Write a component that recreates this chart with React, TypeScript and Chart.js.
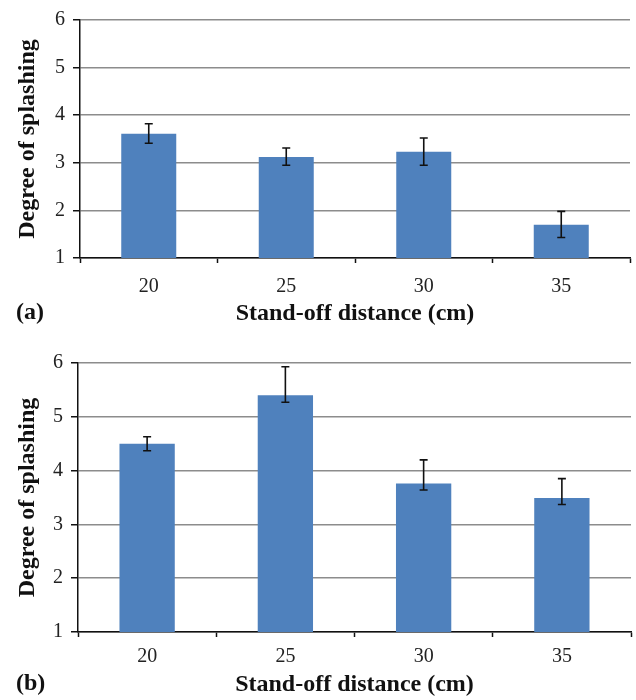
import React, { useEffect, useRef } from "react";
import { Chart, registerables } from "chart.js";

Chart.register(...registerables);

const categories = ["20", "25", "30", "35"];
const yTickMin = 1;
const yTickMax = 6;

const meanA = [3.61, 3.12, 3.23, 1.7];
const errUpA = [0.21, 0.19, 0.29, 0.28];
const errDownA = [0.2, 0.17, 0.28, 0.27];

const meanB = [4.5, 5.4, 3.76, 3.49];
const errUpB = [0.13, 0.53, 0.44, 0.36];
const errDownB = [0.13, 0.13, 0.12, 0.12];

const xTitle = "Stand-off distance (cm)";
const yTitle = "Degree of splashing";

const FONT = "'Liberation Serif', 'Times New Roman', serif";
const BAR = "#4f81bd";

type PanelProps = {
  tag: string;
  values: number[];
  up: number[];
  down: number[];
  top: number;
  height: number;
  padTop: number;
  padRight: number;
  yWidth: number;
  xHeight: number;
  tickPad: number;
  titlePadBottom: number;
  tagY: number;
};

function Panel(p: PanelProps) {
  const ref = useRef<HTMLCanvasElement | null>(null);
  useEffect(() => {
    if (!ref.current) return;
    const errorBars = {
      id: "errorBars" + p.tag,
      afterDatasetsDraw(chart: any) {
        const ctx = chart.ctx;
        const meta = chart.getDatasetMeta(0);
        const ys = chart.scales.y;
        ctx.save();
        ctx.strokeStyle = "#111";
        ctx.lineWidth = 1.6;
        meta.data.forEach((bar: any, i: number) => {
          const v = p.values[i];
          const yHi = ys.getPixelForValue(v + p.up[i]);
          const yLo = ys.getPixelForValue(v - p.down[i]);
          const x = bar.x;
          ctx.beginPath();
          ctx.moveTo(x, yHi);
          ctx.lineTo(x, yLo);
          ctx.moveTo(x - 4, yHi);
          ctx.lineTo(x + 4, yHi);
          ctx.moveTo(x - 4, yLo);
          ctx.lineTo(x + 4, yLo);
          ctx.stroke();
        });
        ctx.restore();
      },
      afterDraw(chart: any) {
        const ctx = chart.ctx;
        ctx.save();
        ctx.fillStyle = "#111";
        ctx.font = `bold 24px ${FONT}`;
        ctx.textBaseline = "middle";
        ctx.textAlign = "left";
        ctx.fillText(`(${p.tag})`, 16, p.tagY);
        ctx.restore();
      },
    };
    const chart = new Chart(ref.current, {
      type: "bar",
      data: {
        labels: categories,
        datasets: [
          {
            data: p.values,
            backgroundColor: BAR,
            borderWidth: 0,
            barPercentage: 1,
            categoryPercentage: 0.4,
          },
        ],
      },
      options: {
        animation: false,
        responsive: false,
        maintainAspectRatio: false,
        layout: { padding: { top: p.padTop, right: p.padRight, left: 0, bottom: 0 } },
        plugins: {
          legend: { display: false },
          tooltip: { enabled: false },
        },
        scales: {
          x: {
            offset: true,
            grid: {
              display: true,
              drawOnChartArea: false,
              offset: true,
              tickLength: 5,
              tickColor: "#111",
              tickWidth: 1.5,
            },
            border: { color: "#111", width: 1.5 },
            ticks: {
              color: "#222",
              font: { family: FONT, size: 20 },
              padding: p.tickPad,
            },
            title: {
              display: true,
              text: xTitle,
              color: "#111",
              font: { family: FONT, size: 24, weight: "bold" },
              padding: { top: 0, bottom: p.titlePadBottom },
            },
            afterFit(scale: any) {
              scale.height = p.xHeight;
            },
          },
          y: {
            min: yTickMin,
            max: yTickMax,
            ticks: {
              stepSize: 1,
              color: "#222",
              font: { family: FONT, size: 20 },
              padding: 8,
            },
            grid: {
              color: "#8c8c8c",
              lineWidth: 1.5,
              tickLength: 7,
              tickColor: "#111",
              tickWidth: 1.5,
            },
            border: { color: "#111", width: 1.5 },
            title: {
              display: true,
              text: yTitle,
              color: "#111",
              font: { family: FONT, size: 24, weight: "bold" },
              padding: { top: 13, bottom: 0 },
            },
            afterFit(scale: any) {
              scale.width = p.yWidth;
            },
          },
        },
      },
      plugins: [errorBars],
    } as any);
    return () => chart.destroy();
  }, []);
  return (
    <canvas
      ref={ref}
      width={636}
      height={p.height}
      style={{ position: "absolute", left: 0, top: p.top, width: 636, height: p.height }}
    />
  );
}

export default function App() {
  return (
    <div style={{ position: "absolute", left: 0, top: 0, width: 636, height: 700, background: "#fff" }}>
      <Panel
        tag="a"
        values={meanA}
        up={errUpA}
        down={errDownA}
        top={0}
        height={335}
        padTop={18}
        padRight={6}
        yWidth={80}
        xHeight={77}
        tickPad={12}
        titlePadBottom={7}
        tagY={313}
      />
      <Panel
        tag="b"
        values={meanB}
        up={errUpB}
        down={errDownB}
        top={335}
        height={365}
        padTop={28}
        padRight={5}
        yWidth={78}
        xHeight={68}
        tickPad={8}
        titlePadBottom={1}
        tagY={349}
      />
    </div>
  );
}
